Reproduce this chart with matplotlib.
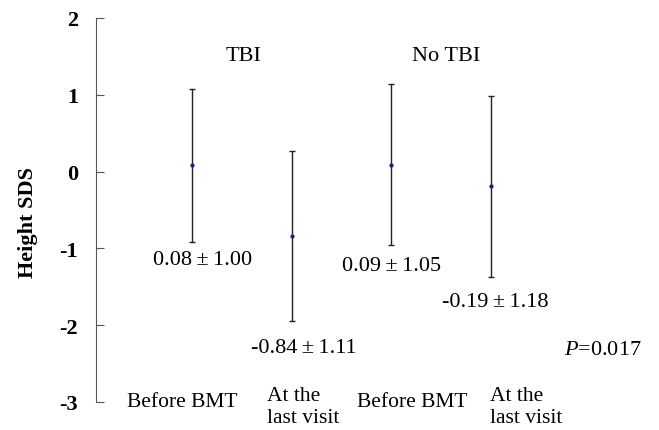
import matplotlib
matplotlib.use("Agg")
import matplotlib.pyplot as plt

groups = ["TBI", "No TBI"]
categories = ["Before BMT", "At the\nlast visit", "Before BMT", "At the\nlast visit"]
means = [0.08, -0.84, 0.09, -0.19]
sds = [1.00, 1.11, 1.05, 1.18]
labels = ["0.08\u2009\u00b1\u20091.00", "-0.84\u2009\u00b1\u20091.11",
          "0.09\u2009\u00b1\u20091.05", "-0.19\u2009\u00b1\u20091.18"]
yticks = [2, 1, 0, -1, -2, -3]
p_text = "=0.017"

plt.rcParams['font.family'] = ['Liberation Serif', 'DejaVu Serif']
plt.rcParams['mathtext.fontset'] = 'custom'
plt.rcParams['mathtext.it'] = 'Liberation Serif:italic'
plt.rcParams['mathtext.rm'] = 'Liberation Serif'

fig = plt.figure(figsize=(6.59, 4.31), dpi=100)
W, H = 659, 431
ax = fig.add_axes([96 / W, (431 - 403) / H, (645 - 96) / W, (403 - 19) / H])

xs = [1, 2, 3, 4]
ax.errorbar(xs, means, yerr=sds, fmt='o', ms=2, color='#1a1a8c', ecolor='#222222',
            elinewidth=1.0, capsize=2.5, capthick=1.0, zorder=3)

ax.set_xlim(0.03, 5.55)
ax.set_ylim(-3, 2)
ax.set_yticks(yticks)
ax.set_yticklabels([str(t) for t in yticks], fontsize=16, fontweight='bold')
ax.tick_params(axis='y', direction='in', length=6, width=0.8, color='#555555', pad=13)
ax.set_xticks([])
for s in ['top', 'right', 'bottom']:
    ax.spines[s].set_visible(False)
ax.spines['left'].set_color('#555555')
ax.spines['left'].set_linewidth(0.8)
ax.set_ylabel("Height SDS", fontsize=16, fontweight='bold')
ax.yaxis.set_label_coords(-0.105, 0.471)

fs = 16
# group titles
ax.text(1.518, 1.51, groups[0], ha='center', va='center', fontsize=fs)
ax.text(3.554, 1.51, groups[1], ha='center', va='center', fontsize=fs)

# value labels
lab_pos = [(1.10, -1.15), (2.12, -2.29), (3.0, -1.22), (4.04, -1.69)]
for (x, y), t in zip(lab_pos, labels):
    ax.text(x, y, t, ha='center', va='center', fontsize=fs)

ax.text(5.13, -2.32, "$\\mathit{P}$" + p_text, ha='center', va='center', fontsize=fs)

# category labels below
cat_pos = [(0.895, 'center'), (1.749, 'left'), (3.207, 'center'), (3.99, 'left')]
for (x, ha), t in zip(cat_pos, categories):
    if '\n' in t:
        ax.text(x, -2.79, t, ha=ha, va='top', fontsize=15.5, linespacing=1.2)
    else:
        ax.text(x, -2.995, t, ha=ha, va='center', fontsize=15.5)

fig.savefig("out.png", dpi=100)
